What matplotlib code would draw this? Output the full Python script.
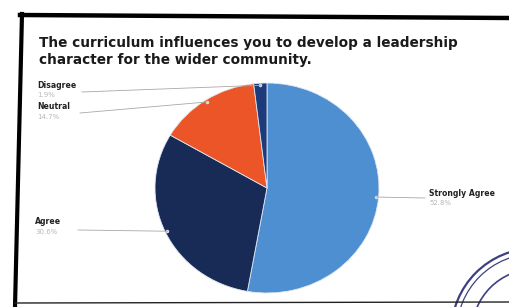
import numpy as np
import matplotlib
matplotlib.use("Agg")
import matplotlib.pyplot as plt
from matplotlib.patches import Arc

categories = ["Strongly Agree", "Agree", "Neutral", "Disagree"]
percent = [52.8, 30.6, 14.7, 1.9]
colors = ["#4d8fd1", "#182b57", "#ec5527", "#1d3a7a"]
title = "The curriculum influences you to develop a leadership\ncharacter for the wider community."

W, H = 510, 307
fig = plt.figure(figsize=(W / 100, H / 100), dpi=100)
fig.patch.set_facecolor("white")

def fx(x):
    return x / W

def fy(y):
    return 1 - y / H

# photo frame
fig.add_artist(plt.Line2D([fx(20), fx(510)], [fy(15), fy(18)], color="black", lw=3.2, transform=fig.transFigure))
fig.add_artist(plt.Line2D([fx(22), fx(15)], [fy(14), fy(307)], color="black", lw=3.0, transform=fig.transFigure))
fig.add_artist(plt.Line2D([fx(15), fx(510)], [fy(303), fy(302)], color="#222222", lw=1.0, transform=fig.transFigure))

fig.text(fx(39), fy(36), title, ha="left", va="top", fontsize=9.8, fontweight="bold",
         color="#1a1a1a", linespacing=1.25, family="DejaVu Sans")

cx, cy, rx, ry = 267, 188, 112, 105
ax = fig.add_axes([fx(cx - rx), fy(cy + ry), 2 * rx / W, 2 * ry / H])
wedges, _ = ax.pie(percent, colors=colors, startangle=90, counterclock=False,
                   wedgeprops=dict(linewidth=0.6, edgecolor="#dfe8f2"))
ax.set_aspect("auto")
ax.set_xlim(-1, 1)
ax.set_ylim(-1, 1)
ax.axis("off")

label_pos = {
    "Strongly Agree": (429, 193, "left"),
    "Agree": (35, 222, "left"),
    "Neutral": (37, 107, "left"),
    "Disagree": (37, 85, "left"),
}
line_y = {"Strongly Agree": 198, "Agree": 230, "Neutral": 113, "Disagree": 92}
line_x0 = {"Strongly Agree": 425, "Agree": 78, "Neutral": 80, "Disagree": 82}

for w, cat, p in zip(wedges, categories, percent):
    ang = np.deg2rad((w.theta1 + w.theta2) / 2)
    px = cx + rx * 0.98 * np.cos(ang)
    py = cy - ry * 0.98 * np.sin(ang)
    tx, ty, ha = label_pos[cat]
    fig.text(fx(tx), fy(ty), cat, ha=ha, va="center", fontsize=5.6, fontweight="bold", color="#222222")
    fig.text(fx(tx), fy(ty + 10), f"{p:.1f}%", ha=ha, va="center", fontsize=5.0, color="#b8b8b8")
    fig.add_artist(plt.Line2D([fx(line_x0[cat]), fx(px)], [fy(line_y[cat]), fy(py)],
                              color="#a8a8a8", lw=0.6, transform=fig.transFigure))
    ax.plot([0.98 * np.cos(ang)], [0.98 * np.sin(ang)], "o", ms=1.5, color="#dddddd")

# stamp in bottom-right corner
scx, scy, sr = 535, 332, 90
sax = fig.add_axes([fx(scx - sr), fy(scy + sr), 2 * sr / W, 2 * sr / H])
sax.set_xlim(-1, 1)
sax.set_ylim(-1, 1)
sax.axis("off")
for r, lw in [(0.93, 1.6), (0.87, 0.9), (0.70, 1.2)]:
    sax.add_patch(Arc((0, 0), 2 * r, 2 * r, theta1=90, theta2=180, color="#3e3f82", lw=lw))
fig.savefig("out.png", dpi=100)
